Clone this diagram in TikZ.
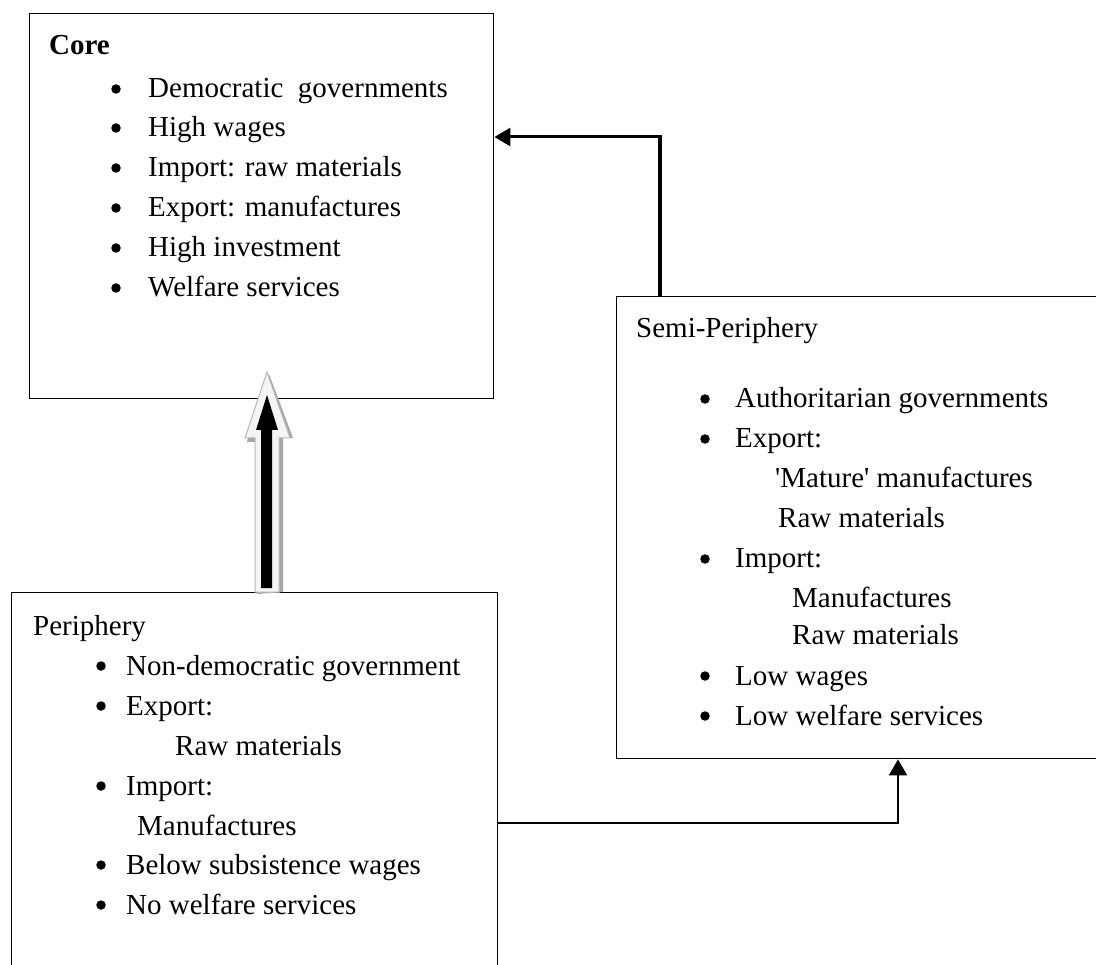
\documentclass[tikz,border=0pt]{standalone}
\usepackage{fontspec}
\setmainfont{Liberation Serif}
\usetikzlibrary{arrows.meta,calc}
\tikzset{
  box/.style={draw=black, line width=1.4pt, fill=none, inner sep=0pt, anchor=north west},
  txt/.style={anchor=base west, inner sep=0pt, font=\fontsize{29}{34}\selectfont},
  dot/.style={circle, fill=black, inner sep=0pt, minimum size=9.5pt},
  bigtip/.style={-{Triangle[length=16pt,width=18pt]}},
  thickconn/.style={line width=3pt},
  thinconn/.style={line width=2pt}
}
\begin{document}
\begin{tikzpicture}[x=1pt,y=-1pt]
\useasboundingbox (0,0) rectangle (1096,965);
\clip (0,0) rectangle (1096,965);
\fill[white] (0,0) rectangle (1096,965);
% boxes
\node[box, minimum width=464pt, minimum height=385pt] (core) at (29,13) {};
\node[box, minimum width=500pt, minimum height=462pt] (semi) at (616,296) {};
\node[box, minimum width=486pt, minimum height=420pt] (peri) at (11,592) {};
% core text
\node[txt, font=\fontsize{29}{34}\selectfont\bfseries] (coret) at (49,55) {Core};
\foreach \y/\t [count=\i] in {98/{Democratic\ \ governments},137/{High wages},177/{Import: raw materials},217/{Export: manufactures},257/{High investment},297/{Welfare services}}{
  \node[dot] (cb\i) at (116,\y-9) {};
  \node[txt] (ct\i) at (148,\y) {\t};
}
% semi text
\node[txt] (semit) at (636,338) {Semi-Periphery};
\foreach \y/\t [count=\i] in {408/{Authoritarian governments},448/{Export:},568/{Import:},685/{Low wages},725/{Low welfare services}}{
  \node[dot] (sb\i) at (705,\y-9) {};
  \node[txt] (st\i) at (735,\y) {\t};
}
\node[txt] (s3) at (775,488) {\textquotesingle Mature\textquotesingle{} manufactures};
\node[txt] (s4) at (778,528) {Raw materials};
\node[txt] (s5) at (792,607) {Manufactures};
\node[txt] (s6) at (792,644) {Raw materials};
% periphery text
\node[txt] (perit) at (33,635) {Periphery};
\foreach \y/\t [count=\i] in {675/{Non-democratic government},715/{Export:},795/{Import:},874/{Below subsistence wages},914/{No welfare services}}{
  \node[dot] (pb\i) at (101,\y-9) {};
  \node[txt] (pt\i) at (126,\y) {\t};
}
\node[txt] (p3) at (175,755) {Raw materials};
\node[txt] (p4) at (137,835) {Manufactures};
% connectors
\coordinate (bend1) at (660,137);
\draw[line width=4pt] (semi.north -| bend1) -- ($(bend1)+(0,-1.5)$);
\draw[thickconn, bigtip] ($(bend1)+(2,0)$) -- (core.east |- bend1);
\coordinate (bend2) at (898,823);
\draw[thinconn, bigtip] (peri.east |- bend2) -- (bend2) -- (semi.south -| bend2);
% block arrow peri -> core
\coordinate (ba) at (peri.north -| 267,0);
\fill[gray!70] ($(ba)+(-10,2)$) -- ++(0,-152) -- ++(-10,0) -- ($(ba)+(2,-218)$) -- ++(24,64) -- ++(-10,0) -- ++(0,154) -- cycle;
\filldraw[fill=gray!8, draw=gray!55, line width=1pt] ($(ba)+(-12,0)$) -- ++(0,-154) -- ++(-10,0) -- ($(ba)+(0,-220)$) -- ++(23,66) -- ++(-11,0) -- ++(0,154) -- cycle;
\fill[black] ($(ba)+(-6,-4)$) -- ++(0,-158) -- ++(-5,0) -- ($(ba)+(0,-197)$) -- ++(11,35) -- ++(-6,0) -- ++(0,158) -- cycle;
\end{tikzpicture}
\end{document}
